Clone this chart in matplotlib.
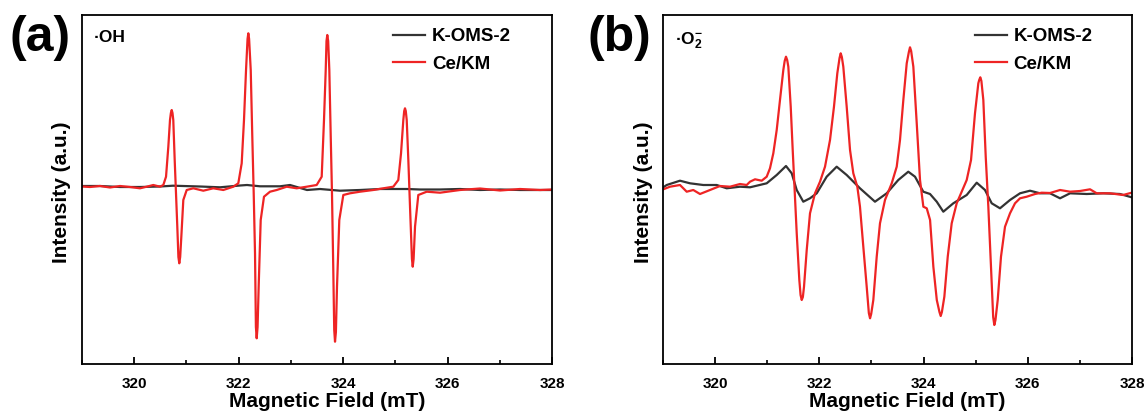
import matplotlib
matplotlib.use("Agg")
import matplotlib.pyplot as plt
from matplotlib.ticker import MultipleLocator

# ---------------- data ----------------
# Panel (a): DMPO-.OH spectra
a_red_x = [319.000, 319.153, 319.345, 319.536, 319.728, 319.919, 320.111, 320.239, 320.365,
           320.494, 320.557, 320.609, 320.653, 320.685, 320.702, 320.718, 320.733, 320.748,
           320.775, 320.800, 320.825, 320.846, 320.863, 320.880, 320.902, 320.940, 321.005,
           321.131, 321.323, 321.514, 321.706, 321.897, 321.993, 322.058, 322.102, 322.141,
           322.170, 322.185, 322.200, 322.231, 322.261, 322.288, 322.313, 322.330, 322.345,
           322.362, 322.383, 322.422, 322.485, 322.600, 322.728, 322.920, 323.111, 323.303,
           323.494, 323.590, 323.634, 323.667, 323.682, 323.697, 323.714, 323.736, 323.763,
           323.787, 323.812, 323.830, 323.845, 323.862, 323.883, 323.927, 324.004, 324.132,
           324.324, 324.578, 324.770, 324.961, 325.057, 325.109, 325.153, 325.170, 325.185,
           325.200, 325.218, 325.249, 325.281, 325.318, 325.333, 325.350, 325.377, 325.440,
           325.601, 325.856, 326.239, 326.622, 327.005, 327.388, 327.771, 328.000]
a_red_y = [0.5, 0.0, 1.0, -0.5, 1.0, 0.0, -1.3, 0.3, 2.0,
           0.3, 2.0, 10.3, 40.3, 67.0, 74.0, 77.0, 74.0, 67.0,
           27.0, -6.3, -39.7, -70.0, -76.3, -70.0, -49.7, -13.0, -3.0,
           -1.3, -3.7, -1.3, -3.0, 0.3, 3.7, 23.7, 67.0, 117.0,
           148.0, 153.7, 148.0, 117.0, 50.3, -6.3, -66.3, -140.0, -151.3,
           -140.0, -99.7, -33.0, -9.7, -4.7, -3.0, 0.3, -1.3, 0.3,
           2.0, 10.3, 67.0, 117.0, 146.0, 152.0, 146.0, 117.0, 50.3,
           -6.3, -83.0, -143.0, -154.7, -145.0, -99.7, -33.0, -8.0, -6.3,
           -4.7, -3.0, -1.3, 0.3, 7.0, 33.7, 67.0, 76.0, 78.7,
           76.0, 67.0, 27.0, -19.7, -72.0, -79.7, -72.0, -39.7, -8.0,
           -4.7, -5.7, -3.0, -1.5, -3.5, -2.0, -3.0, -2.5]
a_blk_x = [319.000, 319.345, 319.728, 320.111, 320.494, 320.743, 321.260, 321.643, 322.026,
           322.160, 322.409, 322.792, 322.983, 323.309, 323.558, 323.941, 324.324, 324.707,
           325.224, 325.473, 325.856, 326.239, 326.622, 327.005, 327.388, 327.771, 328.000]
a_blk_y = [1.0, 1.0, 0.0, 0.0, 0.5, 1.3, 0.5, -0.3, 1.5,
           2.0, 0.7, 0.7, 2.0, -3.0, -2.0, -3.7, -3.0, -2.0,
           -2.0, -2.5, -2.5, -2.0, -3.0, -2.5, -3.0, -3.0, -3.0]

# Panel (b): DMPO-.O2- spectra
b_red_x = [319.006, 319.134, 319.326, 319.455, 319.581, 319.710, 319.902, 320.094, 320.286,
           320.478, 320.606, 320.670, 320.766, 320.894, 320.990, 321.053, 321.117, 321.182,
           321.245, 321.309, 321.335, 321.360, 321.383, 321.405, 321.451, 321.489, 321.520,
           321.566, 321.616, 321.640, 321.662, 321.684, 321.706, 321.758, 321.821, 321.917,
           322.013, 322.109, 322.205, 322.281, 322.345, 322.388, 322.410, 322.432, 322.460,
           322.525, 322.589, 322.652, 322.729, 322.780, 322.844, 322.909, 322.950, 322.973,
           322.995, 323.036, 323.101, 323.164, 323.260, 323.389, 323.485, 323.548, 323.612,
           323.677, 323.718, 323.740, 323.762, 323.804, 323.869, 323.932, 323.996, 324.061,
           324.125, 324.188, 324.254, 324.305, 324.329, 324.352, 324.399, 324.464, 324.540,
           324.636, 324.732, 324.828, 324.911, 324.987, 325.051, 325.068, 325.089, 325.110,
           325.147, 325.193, 325.243, 325.294, 325.336, 325.358, 325.380, 325.423, 325.486,
           325.563, 325.659, 325.755, 325.851, 325.980, 326.139, 326.267, 326.427, 326.619,
           326.811, 327.003, 327.195, 327.323, 327.578, 327.828, 327.994]
b_red_y = [-2.3, 0.3, 2.0, -4.7, -3.0, -7.0, -3.0, 1.0, 0.3,
           3.0, 2.0, 5.3, 7.7, 6.3, 10.3, 18.7, 33.7, 57.0,
           87.0, 117.0, 126.0, 130.3, 127.0, 120.3, 80.3, 37.0, 3.7,
           -46.3, -93.0, -108.0, -113.0, -110.0, -99.7, -63.0, -26.3, -6.3,
           5.3, 20.3, 47.0, 80.3, 113.7, 129.0, 133.7, 130.0, 120.3,
           80.3, 37.0, 13.7, 0.3, -19.7, -59.7, -99.7, -126.0, -131.3,
           -127.0, -113.0, -69.7, -36.3, -13.0, 3.7, 20.3, 47.0, 87.0,
           123.7, 135.0, 139.7, 136.0, 120.3, 63.7, 7.0, -19.7, -21.3,
           -33.0, -79.7, -113.0, -125.0, -129.0, -125.0, -109.7, -69.7, -36.3,
           -16.3, -4.7, 7.0, 27.0, 73.7, 103.7, 107.0, 109.7, 106.0,
           87.0, 30.3, -19.7, -79.7, -130.0, -138.0, -133.0, -113.0, -69.7,
           -39.7, -26.3, -16.3, -11.3, -9.7, -7.0, -5.7, -6.0, -3.0,
           -4.7, -4.0, -2.3, -6.3, -6.3, -8.0, -5.7]
b_blk_x = [319.000, 319.071, 319.326, 319.518, 319.773, 320.031, 320.222, 320.478, 320.670,
           320.990, 321.182, 321.360, 321.470, 321.566, 321.692, 321.821, 321.950, 322.141,
           322.333, 322.525, 322.780, 323.068, 323.293, 323.515, 323.707, 323.836, 323.995,
           324.124, 324.253, 324.379, 324.571, 324.828, 325.020, 325.179, 325.308, 325.467,
           325.659, 325.851, 326.043, 326.235, 326.427, 326.619, 326.811, 327.131, 327.449,
           327.770, 327.994]
b_blk_y = [-0.5, 2.0, 6.3, 3.7, 2.0, 2.0, -1.3, 0.3, -0.3,
           3.7, 12.0, 21.0, 13.7, -3.0, -14.7, -11.3, -6.3, 10.3,
           20.3, 12.0, -1.3, -14.7, -6.3, 7.0, 15.3, 10.3, -4.7,
           -7.0, -14.7, -24.7, -16.3, -8.0, 4.3, -3.0, -16.3, -21.3,
           -13.0, -6.3, -3.7, -6.3, -6.3, -11.3, -6.3, -7.0, -6.3,
           -7.0, -10.3]

series_labels = ["K-OMS-2", "Ce/KM"]
panel_tags = ["(a)", "(b)"]
species = ["·OH", r"·O$_\mathbf{2}^{\mathbf{-}}$"]
x_ticks = [320, 322, 324, 326, 328]

# ---------------- style ----------------
plt.rcParams["font.family"] = ["Liberation Sans", "DejaVu Sans"]
plt.rcParams["font.weight"] = "bold"
plt.rcParams["mathtext.fontset"] = "custom"
plt.rcParams["mathtext.rm"] = "Liberation Sans:bold"
plt.rcParams["mathtext.bf"] = "Liberation Sans:bold"
plt.rcParams["mathtext.default"] = "bf"

RED = "#EE2424"
BLK = "#333333"

W, H = 1147, 411
fig = plt.figure(figsize=(W / 100, H / 100), dpi=100)

def px_rect(l, r, t, b):
    return [l / W, 1 - b / H, (r - l) / W, (b - t) / H]

axa = fig.add_axes(px_rect(82, 552, 15, 364))
axb = fig.add_axes(px_rect(663, 1132, 15, 364))

data = [(axa, a_blk_x, a_blk_y, a_red_x, a_red_y),
        (axb, b_blk_x, b_blk_y, b_red_x, b_red_y)]

for i, (ax, bx, by, rx, ry) in enumerate(data):
    ax.plot(bx, by, color=BLK, lw=1.6, label=series_labels[0])
    ax.plot(rx, ry, color=RED, lw=1.6, label=series_labels[1])
    ax.set_xlim(319, 328)
    ax.set_ylim(-177, 172)
    ax.set_xticks(x_ticks)
    ax.xaxis.set_minor_locator(MultipleLocator(1))
    ax.tick_params(axis="x", which="major", direction="in", length=5, width=1.3,
                   labelsize=11, pad=9)
    ax.tick_params(axis="x", which="minor", direction="in", length=3, width=1.2)
    ax.set_yticks([])
    for s in ax.spines.values():
        s.set_linewidth(1.3)
    for lab in ax.get_xticklabels():
        lab.set_fontweight("bold")
    ax.set_xlabel("Magnetic Field (mT)", fontsize=15, fontweight="bold")
    ax.xaxis.set_label_coords(0.521, -0.08)
    ax.xaxis.label.set_va("top")
    ax.set_ylabel("Intensity (a.u.)", fontsize=15, fontweight="bold")
    ax.yaxis.label.set_va("center")
    ax.yaxis.set_label_coords(-0.0426, 0.491)
    ax.text(0.0255, 0.957, species[i], transform=ax.transAxes, ha="left", va="top",
            fontsize=12.5, fontweight="bold")
    ax.legend(loc="upper left", bbox_to_anchor=(0.662 if i == 0 else 0.665, 0.962),
              frameon=False, borderpad=0, borderaxespad=0, handlelength=1.7,
              handletextpad=0.37, labelspacing=0.56,
              prop={"weight": "bold", "size": 13.5})

fig.text(10 / W, 1 - 15 / H, panel_tags[0], ha="left", va="top", fontsize=36, fontweight="bold")
fig.text(587 / W, 1 - 15 / H, panel_tags[1], ha="left", va="top", fontsize=36, fontweight="bold")

fig.savefig("out.png", dpi=100)
